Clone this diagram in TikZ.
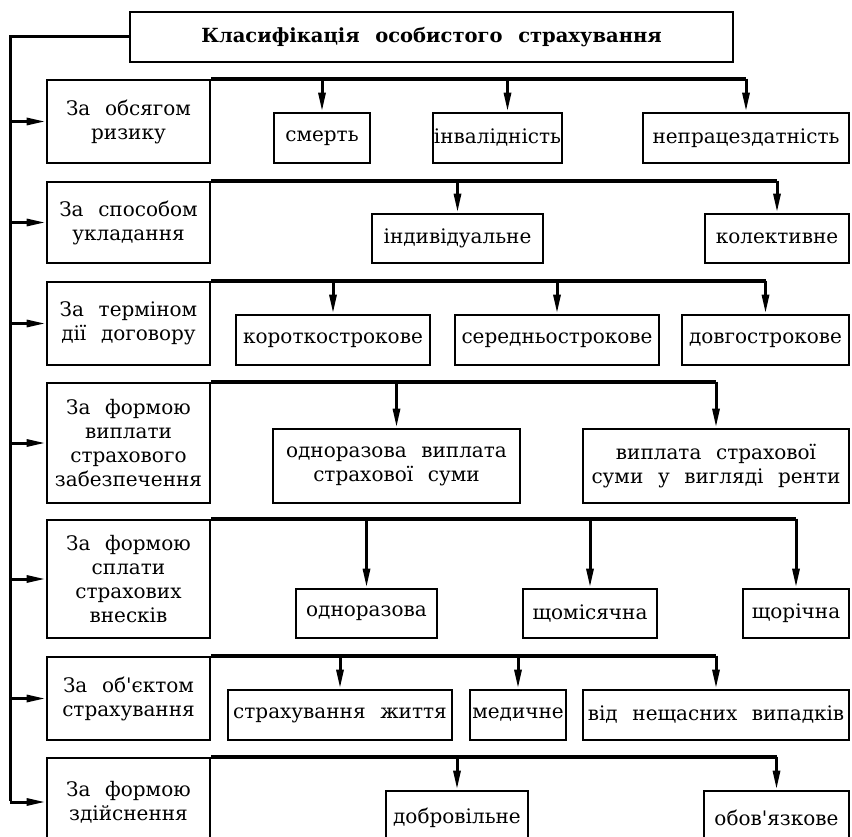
\documentclass[tikz,border=0pt]{standalone}
\usepackage{fontspec}
\newfontfamily\bodyfont{DejaVu Serif}[WordSpace=2.3]
\usetikzlibrary{arrows.meta}

\tikzset{
  box/.style={draw, line width=2.8pt, inner sep=0pt, align=center,
    font=\bodyfont\fontsize{20}{24}\selectfont},
  titlebox/.style={box, font=\bodyfont\bfseries\fontsize{19.5}{24}\selectfont},
  catbox/.style={box, minimum width=163pt},
  leafbox/.style={box},
  bus/.style={line width=4pt},
  trunk/.style={line width=3pt},
  feed/.style={line width=3pt, -{Triangle[length=19pt,width=7pt]}},
  drop/.style={line width=3pt, -{Triangle[length=19pt,width=7pt]}},
}

\begin{document}
\begin{tikzpicture}[x=1pt,y=-1pt]
\useasboundingbox (0,0) rectangle (852,837);
\fill[white] (0,0) rectangle (852,837);
\clip (0,0) rectangle (852,837);

% heading
\node[titlebox, minimum width=603pt, minimum height=50pt] (title) at (431.5,37)
  {Класифікація особистого страхування};

% classification criteria
\node[catbox, minimum height=83pt]  (c1) at (128.5,121.5) {За обсягом\\ризику};
\node[catbox, minimum height=81pt]  (c2) at (128.5,222.5) {За способом\\укладання};
\node[catbox, minimum height=83pt]  (c3) at (128.5,323.5) {За терміном\\дії договору};
\node[catbox, minimum height=120pt] (c4) at (128.5,443)   {За формою\\виплати\\страхового\\забезпечення};
\node[catbox, minimum height=118pt] (c5) at (128.5,579)   {За формою\\сплати\\страхових\\внесків};
\node[catbox, minimum height=83pt]  (c6) at (128.5,698.5) {За об'єктом\\страхування};
\node[catbox, minimum height=88pt]  (c7) at (128.5,802)   {За формою\\здійснення};

% kinds
\node[leafbox, minimum width=96pt,  minimum height=50pt] (l11) at (322,138)   {смерть};
\node[leafbox, minimum width=129pt, minimum height=50pt] (l12) at (497.5,138) {інвалідність};
\node[leafbox, minimum width=206pt, minimum height=50pt] (l13) at (746,138)   {непрацездатність};

\node[leafbox, minimum width=171pt, minimum height=49pt] (l21) at (457.5,238.5) {індивідуальне};
\node[leafbox, minimum width=144pt, minimum height=49pt] (l22) at (777,238.5)   {колективне};

\node[leafbox, minimum width=194pt, minimum height=50pt] (l31) at (333,340)   {короткострокове};
\node[leafbox, minimum width=204pt, minimum height=50pt] (l32) at (557,340)   {середньострокове};
\node[leafbox, minimum width=167pt, minimum height=50pt] (l33) at (765.5,340) {довгострокове};

\node[leafbox, minimum width=247pt, minimum height=74pt] (l41) at (396.5,466) {одноразова виплата\\страхової суми};
\node[leafbox, minimum width=266pt, minimum height=74pt] (l42) at (716,466)   {виплата страхової\\суми у вигляді ренти};

\node[leafbox, minimum width=141pt, minimum height=49pt] (l51) at (366.5,613.5) {одноразова};
\node[leafbox, minimum width=134pt, minimum height=49pt] (l52) at (590,613.5)   {щомісячна};
\node[leafbox, minimum width=106pt, minimum height=49pt] (l53) at (796,613.5)   {щорічна};

\node[leafbox, minimum width=224pt, minimum height=50pt] (l61) at (340,715) {страхування життя};
\node[leafbox, minimum width=96pt,  minimum height=50pt] (l62) at (518,715) {медичне};
\node[leafbox, minimum width=266pt, minimum height=50pt] (l63) at (716,715) {від нещасних випадків};

\node[leafbox, minimum width=142pt, minimum height=54pt] (l71) at (457,818)   {добровільне};
\node[leafbox, minimum width=145pt, minimum height=54pt] (l72) at (776.5,818) {обов'язкове};

% main trunk from the heading
\coordinate (trunkend) at (10,801);
\draw[trunk] (title.west) -| (trunkend);
\foreach \c in {c1,c2,c3,c4,c5,c6,c7}
  \draw[feed] (\c.west -| trunkend) -- (\c.west);

% buses along the top of each criterion row
\draw[bus] (c1.north east) -- (c1.north east -| l13.north);
\draw[bus] (c2.north east) -- (c2.north east -| l22.north);
\draw[bus] (c3.north east) -- (c3.north east -| l33.north);
\draw[bus] (c4.north east) -- (c4.north east -| l42.north);
\draw[bus] (c5.north east) -- (c5.north east -| l53.north);
\draw[bus] (c6.north east) -- (c6.north east -| l63.north);
\draw[bus] (c7.north east) -- (c7.north east -| l72.north);

% drops to the kinds
\foreach \c/\l in {c1/l11,c1/l13,c2/l21,c2/l22,c3/l31,c3/l32,c3/l33,
                   c4/l41,c4/l42,c5/l51,c5/l52,c5/l53,c6/l61,c6/l62,c6/l63,
                   c7/l71,c7/l72}
  \draw[drop] (\l.north |- \c.north) -- (\l.north);
\draw[drop] ([xshift=10pt]l12.north |- c1.north) -- ([xshift=10pt]l12.north);
\end{tikzpicture}
\end{document}
